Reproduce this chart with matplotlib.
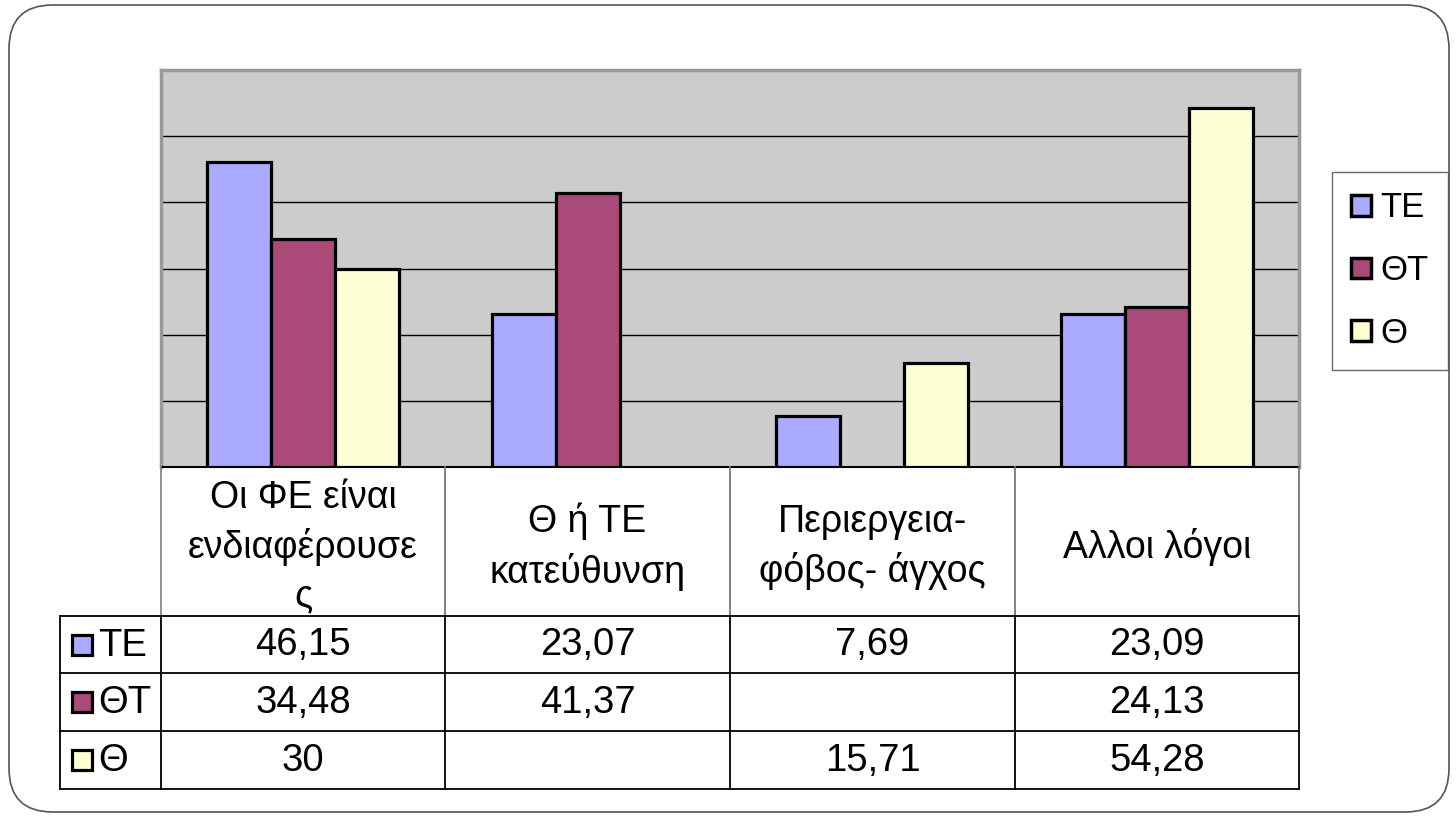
import numpy as np
import matplotlib
matplotlib.use("Agg")
import matplotlib.pyplot as plt
from matplotlib.patches import FancyBboxPatch, Rectangle
from matplotlib.lines import Line2D

plt.rcParams['font.family'] = ['Liberation Sans', 'DejaVu Sans']

categories = ["Οι ΦΕ είναι\nενδιαφέρουσε\nς", "Θ ή ΤΕ\nκατεύθυνση",
              "Περιεργεια-\nφόβος- άγχος", "Αλλοι λόγοι"]
series_names = ["ΤΕ", "ΘΤ", "Θ"]
te = [46.15, 23.07, 7.69, 23.09]
tht = [34.48, 41.37, None, 24.13]
th = [30, None, 15.71, 54.28]
series = [te, tht, th]
colors = ["#aaaaff", "#a94a7a", "#ffffd5"]

W, H = 1456, 816
fig = plt.figure(figsize=(W / 100, H / 100), dpi=100)

def fx(px):
    return px / W

def fy(py):
    return 1 - py / H

# outer rounded frame
frame = FancyBboxPatch((fx(9), fy(812)), fx(1449) - fx(9), fy(5) - fy(812),
                       boxstyle="round,pad=0,rounding_size=0.03",
                       transform=fig.transFigure, fill=False,
                       edgecolor="#555555", lw=1.2, mutation_aspect=W / H)
fig.patches.append(frame)

# plot area
L, R, T, B = 161, 1299, 70, 467
ax = fig.add_axes([fx(L), fy(B), fx(R) - fx(L), fy(T) - fy(B)])
ax.set_facecolor("#cccccc")
ax.set_xlim(-0.5, len(categories) - 0.5)
ax.set_ylim(0, 60)
ax.set_yticks(np.arange(0, 61, 10))
ax.set_xticks([])
ax.tick_params(axis='y', length=0, labelleft=False)
ax.grid(axis='y', color='black', lw=1.0)
ax.set_axisbelow(True)
for s in ["top", "left", "right"]:
    ax.spines[s].set_color("#999999")
    ax.spines[s].set_linewidth(2.5)
ax.spines["bottom"].set_color("black")
ax.spines["bottom"].set_linewidth(1.5)

bw = 0.2245
x = np.arange(len(categories))
for i, (vals, c, name) in enumerate(zip(series, colors, series_names)):
    xs = [x[j] + (i - 1) * bw for j, v in enumerate(vals) if v is not None]
    hs = [v for v in vals if v is not None]
    ax.bar(xs, hs, width=bw, color=c, edgecolor="black", linewidth=2.3,
           label=name, zorder=3)

# legend
leg_handles = [Rectangle((0, 0), 1, 1, facecolor=c, edgecolor="black", lw=2.5)
               for c in colors]
leg = fig.legend(leg_handles, series_names, loc="upper left",
                 bbox_to_anchor=(fx(1332), fy(172)),
                 bbox_transform=fig.transFigure,
                 frameon=True, fancybox=False, fontsize=25,
                 handlelength=0.55, handleheight=0.55, handletextpad=0.28,
                 labelspacing=0.86, borderpad=0.56, borderaxespad=0)
leg.get_frame().set_edgecolor("#444444")
leg.get_frame().set_linewidth(1.0)

# data table
col_edges = [161, 445, 730, 1015, 1299]
row_edges = [467, 616, 673, 731, 789]
tx_left = 60
lc = "black"
lw = 1.3

def hline(y, x0, x1, color=lc):
    fig.add_artist(Line2D([fx(x0), fx(x1)], [fy(y), fy(y)], color=color, lw=lw,
                          transform=fig.transFigure))

def vline(xp, y0, y1, color=lc):
    fig.add_artist(Line2D([fx(xp), fx(xp)], [fy(y0), fy(y1)], color=color, lw=lw,
                          transform=fig.transFigure))

for y in row_edges[1:]:
    hline(y, tx_left, col_edges[-1])
vline(tx_left, row_edges[1], row_edges[-1])
vline(col_edges[0], row_edges[0], row_edges[1], color="#888888")
vline(col_edges[0], row_edges[1], row_edges[-1])
for xe in col_edges[1:]:
    vline(xe, row_edges[0], row_edges[1], color="#777777")
    vline(xe, row_edges[1], row_edges[-1])

# header
for j, cat in enumerate(categories):
    cx = (col_edges[j] + col_edges[j + 1]) / 2
    cy = 547
    fig.text(fx(cx), fy(cy), cat, ha="center", va="center", fontsize=27,
             linespacing=1.42, multialignment="center")

# rows
for i, (vals, c, name) in enumerate(zip(series, colors, series_names)):
    cy = (row_edges[i + 1] + row_edges[i + 2]) / 2
    fig.add_artist(Rectangle((fx(72), fy(cy + 10)), fx(20), fy(0) - fy(20),
                             facecolor=c, edgecolor="black", lw=2.3,
                             transform=fig.transFigure))
    fig.text(fx(98), fy(cy + 1), name, ha="left", va="center", fontsize=27.5)
    for j, v in enumerate(vals):
        if v is None:
            continue
        cx = (col_edges[j] + col_edges[j + 1]) / 2
        s = f"{v:g}".replace(".", ",")
        fig.text(fx(cx), fy(cy + 1), s, ha="center", va="center", fontsize=27.5)

fig.savefig("out.png", dpi=100)
